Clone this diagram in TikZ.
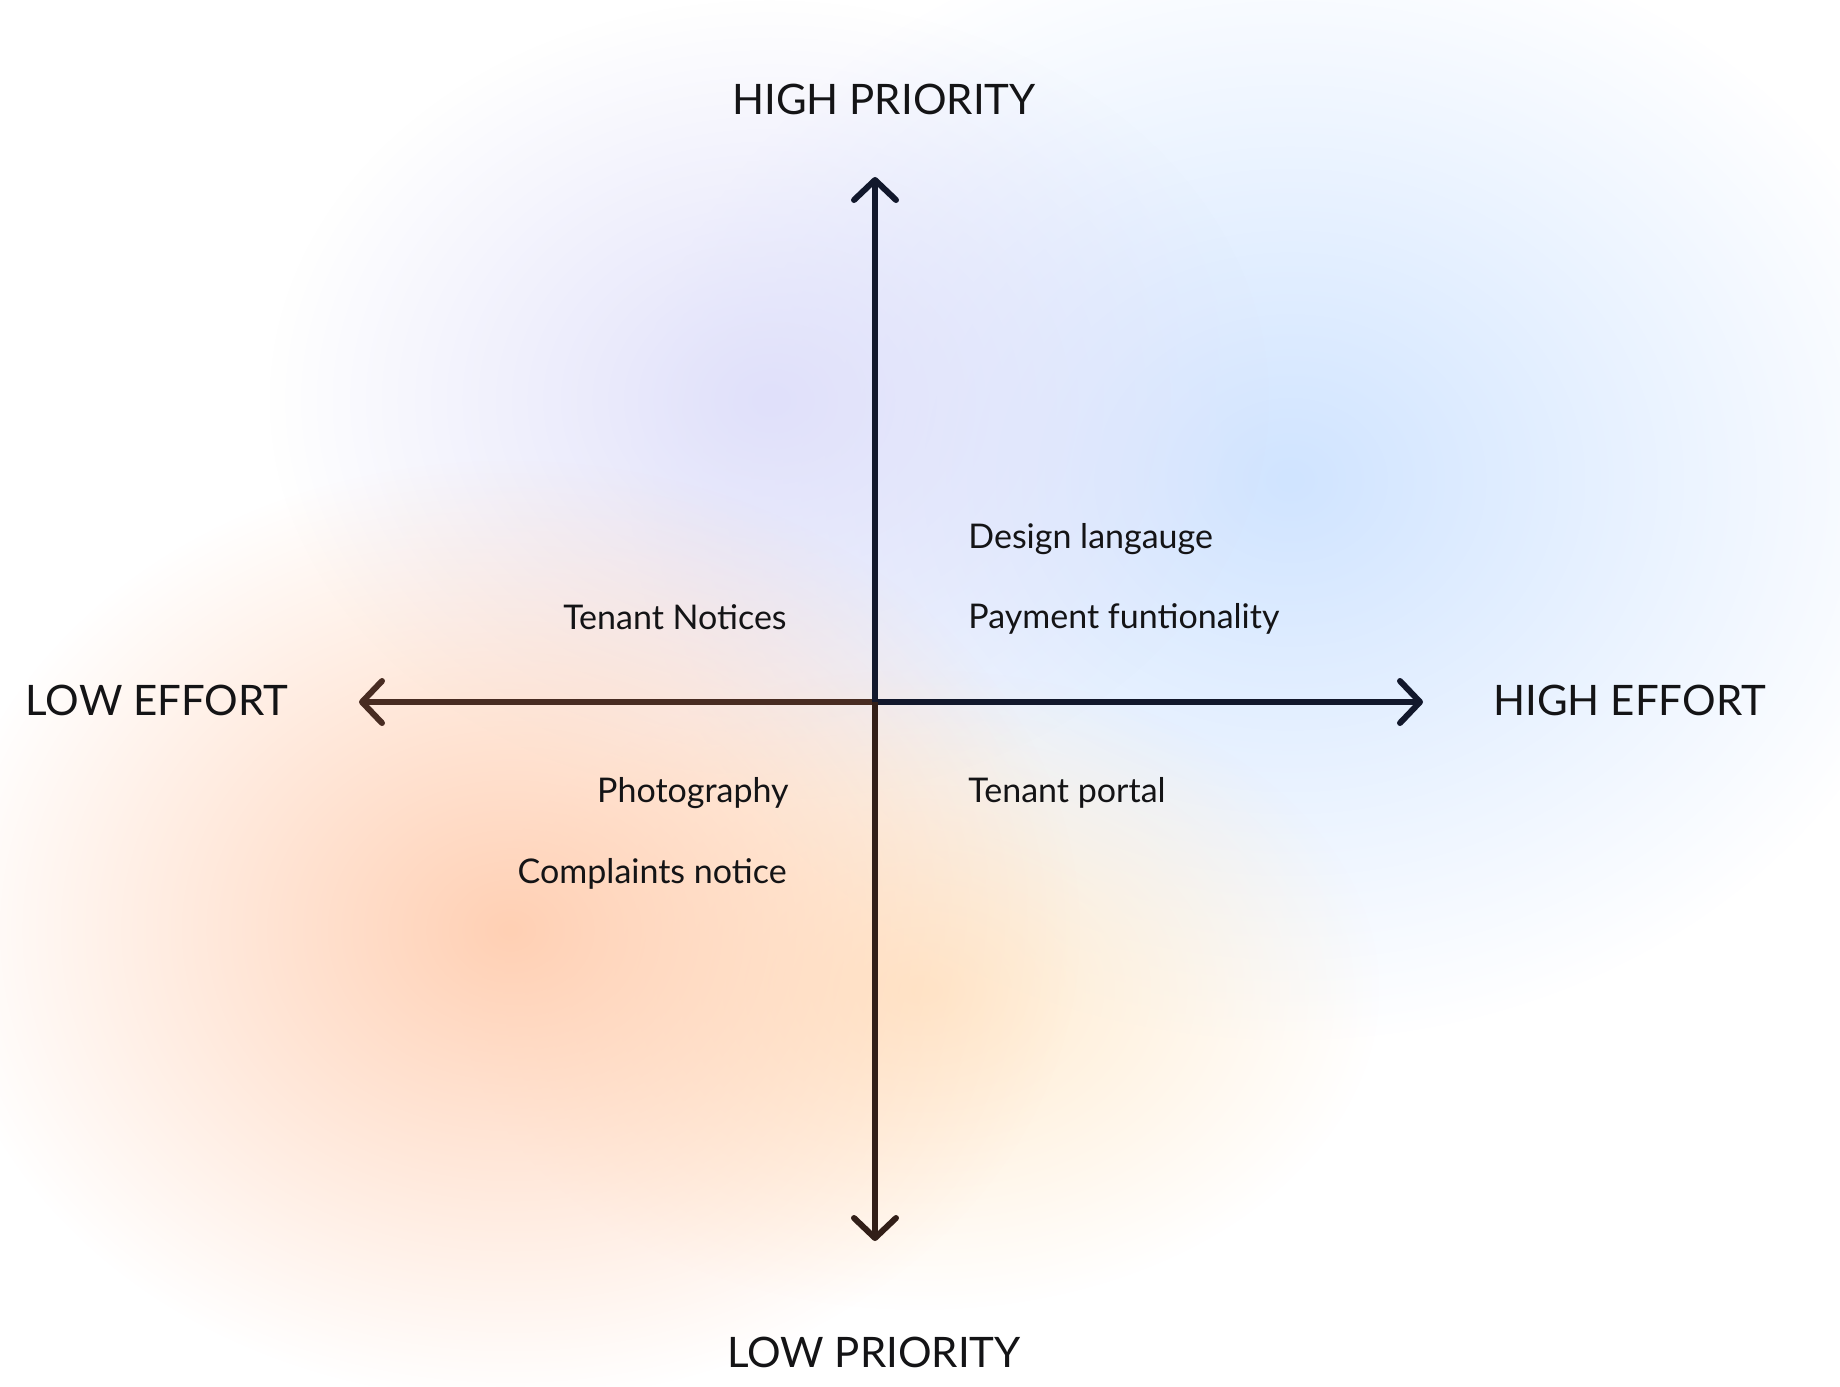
\documentclass[tikz,border=0pt]{standalone}
\usepackage{fontspec}
\setmainfont{Lato}
\usepackage{tikz}
\usetikzlibrary{arrows.meta,fadings}

\definecolor{peach}{RGB}{255,208,180}
\definecolor{cream}{RGB}{255,234,205}
\definecolor{lavender}{RGB}{224,224,250}
\definecolor{skyblue}{RGB}{208,228,255}
\definecolor{axbrown}{RGB}{72,44,34}
\definecolor{axnavy}{RGB}{18,24,44}
\definecolor{inkblack}{RGB}{20,20,22}

\tikzfading[name=blobfade, inner color=transparent!0, outer color=transparent!100]

\begin{document}
\begin{tikzpicture}[x=0.5pt, y=-0.5pt]
	\useasboundingbox[fill=white] (0,0) rectangle (1840,1386);
	% soft background blobs
	\fill[skyblue, path fading=blobfade] (1290,480) ellipse (330pt and 280pt);
	\fill[lavender, path fading=blobfade] (770,400) ellipse (250pt and 200pt);
	\fill[cream, path fading=blobfade] (920,990) ellipse (230pt and 160pt);
	\fill[peach, path fading=blobfade] (510,930) ellipse (285pt and 235pt);

	\coordinate (O) at (875,702);
	\coordinate (top) at (875,177);
	\coordinate (bottom) at (875,1241);
	\coordinate (left) at (359,702);
	\coordinate (right) at (1423,702);

	\begin{scope}[line width=3pt,
			>={Straight Barb[length=10pt, width=21pt, round]}]
		\draw[->, axbrown] (O) -- (left);
		\draw[->, axnavy] (O) -- (right);
		\draw[->, axnavy] (O) -- (top);
		\draw[->, axbrown!70!black] (O) -- (bottom);
	\end{scope}

	\begin{scope}[every node/.style = {text=inkblack, inner sep=0pt, font=\fontsize{21}{25}\selectfont}]
		\node[anchor=base] (hiprio) at (884,114) {HIGH PRIORITY};
		\node[anchor=base] (loprio) at (874,1367) {LOW PRIORITY};
		\node[anchor=base] (loeff) at (157,715) {LOW EFFORT};
		\node[anchor=base west] (hieff) at (1493,715) {HIGH EFFORT};
	\end{scope}

	\begin{scope}[every node/.style = {text=inkblack, inner sep=0pt, font=\fontsize{17}{20}\selectfont}]
		\node[anchor=base west] (design) at (968,548) {Design langauge};
		\node[anchor=base west] (payment) at (968,628) {Payment funtionality};
		\node[anchor=base west] (portal) at (968,802) {Tenant portal};
		\node[anchor=base east] (notices) at (787,629) {Tenant Notices};
		\node[anchor=base east] (photo) at (789,802) {Photography};
		\node[anchor=base east] (complaints) at (787,883) {Complaints notice};
	\end{scope}
\end{tikzpicture}
\end{document}
